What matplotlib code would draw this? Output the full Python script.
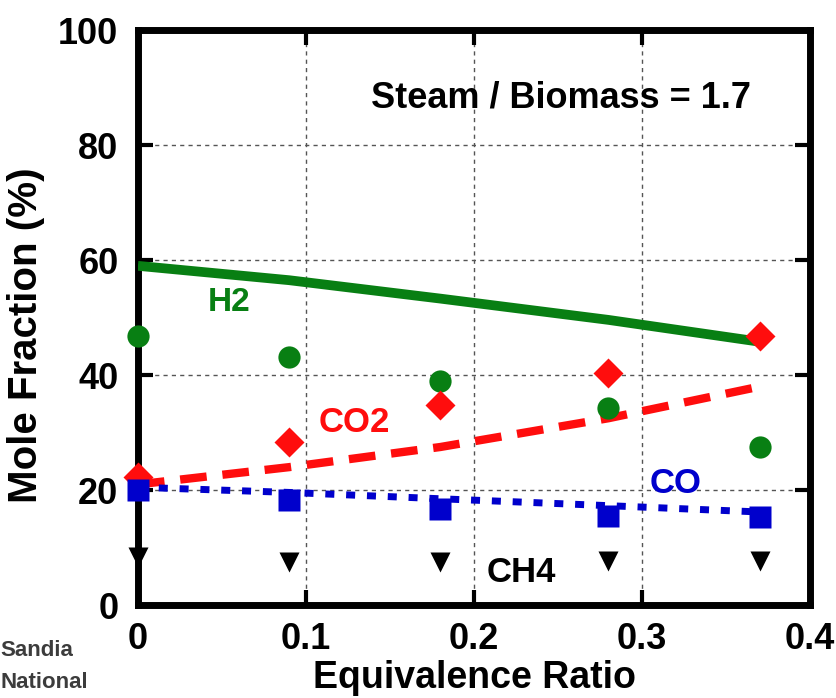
import matplotlib
matplotlib.use('Agg')
import matplotlib.pyplot as plt

plt.rcParams['font.family'] = ['Liberation Sans', 'DejaVu Sans']
plt.rcParams['font.weight'] = 'bold'
plt.rcParams['axes.labelweight'] = 'bold'

# Measured gas composition vs equivalence ratio
er = [0.0, 0.09, 0.18, 0.28, 0.37]
h2_pts = [46.8, 43.1, 39.0, 34.3, 27.5]
co2_pts = [22.3, 28.3, 34.8, 40.3, 46.8]
co_pts = [20.0, 18.3, 16.7, 15.5, 15.3]
ch4_pts = [8.3, 7.5, 7.5, 7.7, 7.7]

# Equilibrium model curves
er_model = [0.0, 0.09, 0.18, 0.28, 0.37]
h2_model = [59.0, 56.5, 53.3, 49.6, 45.8]
co2_model = [21.0, 24.0, 27.5, 32.5, 38.0]
co_model = [20.5, 19.6, 18.5, 17.3, 16.2]

fig = plt.figure(figsize=(8.36, 6.98), dpi=100)
ax = fig.add_axes([0.165, 0.133, 0.804, 0.824])

green = '#087f13'
red = '#ff0d0d'
blue = '#0000cc'

ax.plot(er_model, h2_model, color=green, lw=7, solid_capstyle='butt', zorder=3)
ax.plot(er_model, co2_model, color=red, lw=6, dashes=(3.2, 1.9), zorder=3)
ax.plot(er_model, co_model, color=blue, lw=5, dashes=(1.3, 1.7), zorder=3)

mk = dict(mec='none', zorder=4, clip_on=False, ls='none')
ax.plot(er, h2_pts, 'o', color=green, ms=16, **mk)
ax.plot(er, co2_pts, 'D', color=red, ms=15, **mk)
ax.plot(er, co_pts, 's', color=blue, ms=16, **mk)
ax.plot(er, ch4_pts, 'v', color='black', ms=15, **mk)

ax.text(0.054, 52.6, 'H2', color=green, fontsize=24, ha='center', va='center')
ax.text(0.129, 31.7, 'CO2', color=red, fontsize=25, ha='center', va='center')
ax.text(0.32, 21.2, 'CO', color=blue, fontsize=25, ha='center', va='center')
ax.text(0.228, 5.7, 'CH4', color='black', fontsize=25, ha='center', va='center')
ax.text(0.252, 88.2, 'Steam / Biomass = 1.7', color='black', fontsize=26,
        ha='center', va='center')

ax.set_xlim(0, 0.4)
ax.set_ylim(0, 100)
ax.set_xticks([0, 0.1, 0.2, 0.3, 0.4])
ax.set_xticklabels(['0', '0.1', '0.2', '0.3', '0.4'])
ax.set_yticks([0, 20, 40, 60, 80, 100])
ax.grid(True, color='#555555', ls=(0, (3, 3)), lw=1)
ax.tick_params(direction='in', length=11, width=3, labelsize=26,
               top=True, right=True)
ax.tick_params(axis='y', pad=14)
ax.tick_params(axis='x', pad=12)
for s in ax.spines.values():
    s.set_linewidth(5)

ax.set_xlabel('Equivalence Ratio', fontsize=27, labelpad=2)
ax.set_ylabel('Mole Fraction (%)', fontsize=29)
ax.yaxis.set_label_coords(-0.138, 0.47)

# lab logo in the lower left corner
logo = ['Liberation Sans Narrow', 'Liberation Sans']
fig.text(0.0, 0.068, 'Sandia', fontsize=16, color='#3c3c3c', va='center',
         family=logo)
fig.text(0.0, 0.022, 'National', fontsize=16, color='#3c3c3c', va='center',
         family=logo)

fig.savefig('out.png', dpi=100)
